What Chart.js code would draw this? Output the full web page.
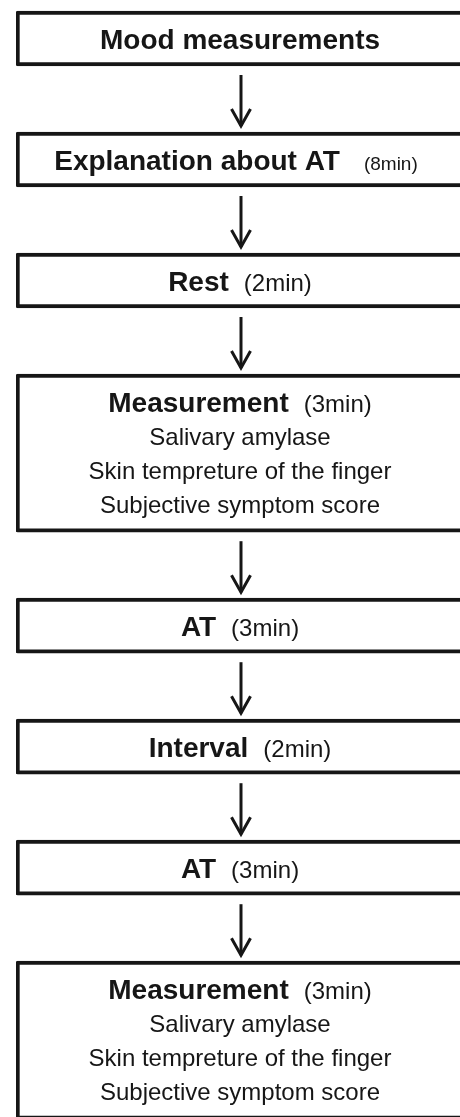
<!DOCTYPE html>
<html>
<head>
<meta charset="utf-8">
<script src="https://cdn.jsdelivr.net/npm/chart.js@4"></script>
<style>
    html, body { margin: 0; padding: 0; background: #ffffff; overflow: hidden; }
    #wrap { position: absolute; left: 0; top: 0; width: 464px; height: 1117px; }
</style>
</head>
<body>
<div id="wrap"><canvas id="flowChart"></canvas></div>
<script>
// flow steps, top to bottom
const stepTitles = ["Mood measurements", "Explanation about AT", "Rest", "Measurement", "AT", "Interval", "AT", "Measurement"];
const stepMinutes = [null, 8, 2, 3, 3, 2, 3, 3];
const measureItems = ["Salivary amylase", "Skin tempreture of the finger", "Subjective symptom score"];
const stepDetails = [[], [], [], measureItems, [], [], [], measureItems];

document.addEventListener("DOMContentLoaded", function () {
    const ink = "#161616";
    const boldFont = "bold 28px 'Liberation Sans', Arial, sans-serif";
    const plainFont = "24px 'Liberation Sans', Arial, sans-serif";
    const smallFont = "19px 'Liberation Sans', Arial, sans-serif";

    // box extents on the y scale, from the number of text lines in each step
    const firstTop = 11;
    const boxHeight = 55;
    const extraLine = 34.4;
    const gap = 66;
    let cursor = firstTop;
    const boxes = stepTitles.map((t, i) => {
        const h = boxHeight + stepDetails[i].length * extraLine;
        const range = [cursor, cursor + h];
        cursor += h + gap;
        return range;
    });

    const datasets = boxes.map((range, i) => ({
        label: stepTitles[i],
        data: [range],
        backgroundColor: "#ffffff",
        borderColor: ink,
        borderWidth: 4,
        borderRadius: 2,
        borderSkipped: false,
        grouped: false,
        barPercentage: 1,
        categoryPercentage: 1,
    }));

    const flowText = {
        id: "flowText",
        afterDatasetsDraw(chart) {
            const ctx = chart.ctx;
            const els = chart.data.datasets.map((d, i) => chart.getDatasetMeta(i).data[0]);
            ctx.save();
            ctx.fillStyle = ink;
            ctx.strokeStyle = ink;
            ctx.textBaseline = "alphabetic";

            els.forEach((el, i) => {
                const p = el.getProps(["x", "y", "base"], true);
                const top = Math.min(p.y, p.base);
                const bottom = Math.max(p.y, p.base);
                const mid = (top + bottom) / 2;
                const lines = 1 + stepDetails[i].length;
                const lineH = 34;
                let cy = mid - (lines - 1) * lineH / 2;

                // title line: bold name + plain duration
                ctx.font = boldFont;
                const w1 = ctx.measureText(stepTitles[i]).width;
                const dur = stepMinutes[i] != null ? "(" + stepMinutes[i] + "min)" : "";
                const longTitle = dur && w1 > 250;
                const durFont = longTitle ? smallFont : plainFont;
                ctx.font = durFont;
                const w2 = dur ? ctx.measureText(dur).width : 0;
                const space = dur ? (longTitle ? 24 : 15) : 0;
                const start = p.x - (w1 + space + w2) / 2 - (longTitle ? 4 : 0);
                ctx.textAlign = "left";
                ctx.font = boldFont;
                ctx.fillText(stepTitles[i], start, cy + 10);
                if (dur) {
                    ctx.font = durFont;
                    ctx.fillText(dur, start + w1 + space, cy + 10);
                }

                ctx.textAlign = "center";
                ctx.font = plainFont;
                stepDetails[i].forEach((txt, k) => {
                    ctx.fillText(txt, p.x, cy + (k + 1) * lineH + 9);
                });

                // arrow down to the next box
                const next = els[i + 1];
                if (next) {
                    const q = next.getProps(["y", "base"], true);
                    const nextTop = Math.min(q.y, q.base);
                    const y0 = bottom + 9;
                    const y1 = nextTop - 6;
                    ctx.lineWidth = 3;
                    ctx.lineCap = "butt";
                    ctx.beginPath();
                    ctx.moveTo(p.x + 1, y0);
                    ctx.lineTo(p.x + 1, y1);
                    ctx.stroke();
                    ctx.beginPath();
                    ctx.moveTo(p.x + 1 - 9.5, y1 - 17);
                    ctx.lineTo(p.x + 1, y1);
                    ctx.lineTo(p.x + 1 + 9.5, y1 - 17);
                    ctx.stroke();
                }
            });
            ctx.restore();
        },
    };

    new Chart(document.getElementById("flowChart").getContext("2d"), {
        type: "bar",
        data: {
            labels: ["flow"],
            datasets: datasets,
        },
        options: {
            responsive: true,
            maintainAspectRatio: false,
            animation: false,
            layout: { padding: { left: 16, right: 0, top: 0, bottom: 0 } },
            plugins: {
                legend: { display: false },
                tooltip: { enabled: false },
            },
            scales: {
                x: { display: false, grid: { display: false } },
                y: { display: false, reverse: true, min: 0, max: 1117, grid: { display: false } },
            },
        },
        plugins: [flowText],
    });
});
</script>
</body>
</html>
